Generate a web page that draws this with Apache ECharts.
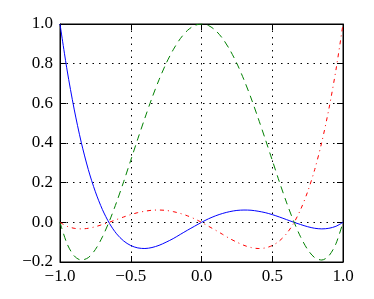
<!DOCTYPE html>
<html><head><meta charset="utf-8">
<script src="https://cdn.jsdelivr.net/npm/echarts@6/dist/echarts.min.js"></script>
<style>html,body{margin:0;padding:0;background:#fff}#c{width:374px;height:299px}</style>
</head><body><div id="c"></div>
<script>
var xs = [-1.00,-0.95,-0.90,-0.85,-0.80,-0.75,-0.70,-0.65,-0.60,-0.55,-0.50,-0.45,-0.40,-0.35,-0.30,-0.25,-0.20,-0.15,-0.10,-0.05,
          0.00,0.05,0.10,0.15,0.20,0.25,0.30,0.35,0.40,0.45,0.50,0.55,0.60,0.65,0.70,0.75,0.80,0.85,0.90,0.95,1.00];
var blueY = [1.000,0.768,0.571,0.404,0.266,0.154,0.064,-0.006,-0.058,-0.094,-0.117,-0.129,-0.132,-0.127,-0.116,-0.100,-0.082,-0.061,-0.040,-0.020,
             0.000,0.018,0.033,0.045,0.054,0.060,0.062,0.061,0.056,0.049,0.039,0.027,0.014,0.001,-0.011,-0.022,-0.030,-0.033,-0.030,-0.020,0.000];
var greenY = [0.000,-0.108,-0.169,-0.190,-0.178,-0.137,-0.073,0.008,0.102,0.205,0.313,0.421,0.526,0.627,0.719,0.801,0.870,0.926,0.967,0.992,
              1.000,0.992,0.967,0.926,0.870,0.801,0.719,0.627,0.526,0.421,0.313,0.205,0.102,0.008,-0.073,-0.137,-0.178,-0.190,-0.169,-0.108,0.000];
var redY = [0.000,-0.020,-0.030,-0.033,-0.030,-0.022,-0.011,0.001,0.014,0.027,0.039,0.049,0.056,0.061,0.062,0.060,0.054,0.045,0.033,0.018,
            0.000,-0.020,-0.040,-0.061,-0.082,-0.100,-0.116,-0.127,-0.132,-0.129,-0.117,-0.094,-0.058,-0.006,0.064,0.154,0.266,0.404,0.571,0.768,1.000];
var xTicks = [-1.0,-0.5,0.0,0.5,1.0];
var yTicks = [-0.2,0.0,0.2,0.4,0.6,0.8,1.0];

function pair(ys){ return xs.map(function(x,i){ return [x, ys[i]]; }); }
function fmt(v){ var s = v.toFixed(1); return s.charAt(0) === '-' ? '\u2212' + s.slice(1) : s; }
var font = 'Liberation Serif';
var gridLine = {show:true, lineStyle:{color:'#000', width:1, type:[1.5,5]}};
function axisBase(extra){
  var o = {type:'value',
    axisLine:{show:true, onZero:false, lineStyle:{color:'#000', width:1}},
    axisTick:{show:true, inside:true, length:6, lineStyle:{color:'#000'}}};
  for (var k in extra) o[k] = extra[k];
  return o;
}
var chart = echarts.init(document.getElementById('c'), null, {renderer:'canvas'});
chart.setOption({
  animation:false,
  backgroundColor:'#fff',
  grid:{left:60, right:31, top:24, bottom:37, show:true, borderColor:'#000', borderWidth:1},
  xAxis:[
    axisBase({min:-1, max:1, interval:0.5, position:'bottom',
     axisLabel:{formatter:fmt, color:'#000', fontFamily:font, fontSize:17, margin:6},
     splitLine:gridLine}),
    axisBase({min:-1, max:1, interval:0.5, position:'top',
     axisLabel:{show:false}, splitLine:{show:false}})
  ],
  yAxis:[
    axisBase({min:-0.2, max:1, interval:0.2, position:'left',
     axisLabel:{formatter:fmt, color:'#000', fontFamily:font, fontSize:17, margin:7},
     splitLine:gridLine}),
    axisBase({min:-0.2, max:1, interval:0.2, position:'right',
     axisLabel:{show:false}, splitLine:{show:false}})
  ],
  series:[
    {type:'line', data:pair(blueY), smooth:0.3, showSymbol:false, lineStyle:{color:'#0000ff', width:1}},
    {type:'line', data:pair(greenY), smooth:0.3, showSymbol:false, lineStyle:{color:'#008000', width:1, type:[7,5]}},
    {type:'line', data:pair(redY), smooth:0.3, showSymbol:false, lineStyle:{color:'#ff0000', width:1, type:[4,4,1,4]}}
  ]
});
</script></body></html>
